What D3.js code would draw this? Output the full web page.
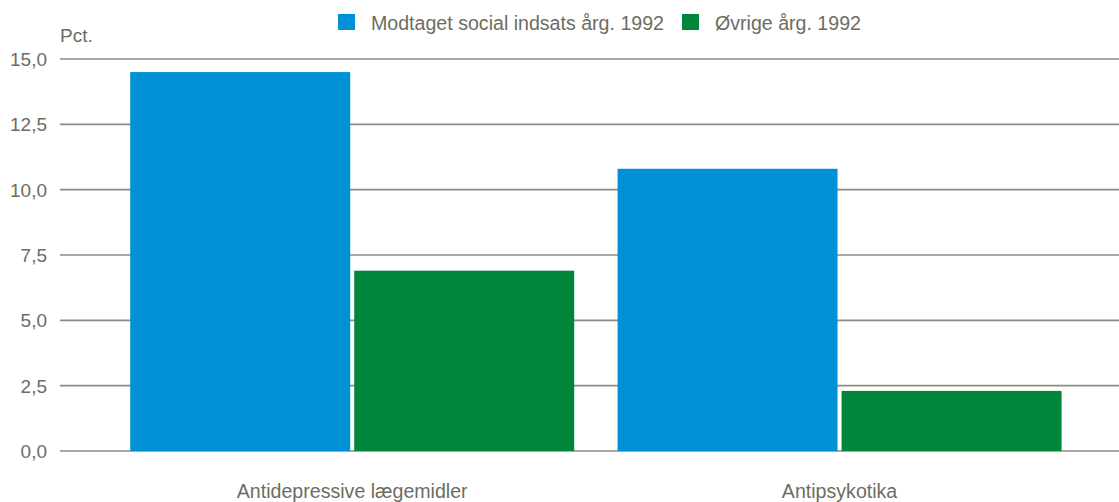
<!DOCTYPE html>
<html>
<head>
<meta charset="utf-8">
<script src="https://cdn.jsdelivr.net/npm/d3@7"></script>
<style>
  body { margin: 0; background: #fff; }
  text { font-family: "Liberation Sans", Arial, sans-serif; fill: #6d6d5f; }
</style>
</head>
<body>
<div id="chart"></div>
<script>
// data
var categories = ["Antidepressive lægemidler", "Antipsykotika"];
var seriesNames = ["Modtaget social indsats årg. 1992", "Øvrige årg. 1992"];
var socialIndsats = [14.5, 10.8];
var oevrige = [6.9, 2.3];
var yTicks = [0, 2.5, 5, 7.5, 10, 12.5, 15];
var colors = ["#0090d6", "#00863b"];

var width = 1119, height = 502;

var svg = d3.select("#chart")
    .append("svg")
    .attr("width", width)
    .attr("height", height);

var x0 = d3.scaleBand()
    .domain(categories)
    .range([60, 1119])
    .paddingInner(0.089)
    .paddingOuter(0.131)
    .align(0.55);

var x1 = d3.scaleBand()
    .domain(seriesNames)
    .range([0, x0.bandwidth()])
    .paddingInner(0.018);

var y = d3.scaleLinear()
    .domain([0, 15])
    .range([451, 59]);

var fmt = function (d) { return d3.format(".1f")(d).replace(".", ","); };

// gridlines
svg.append("g")
    .selectAll("line")
    .data(yTicks)
    .enter().append("line")
    .attr("x1", 60)
    .attr("x2", width)
    .attr("y1", function (d) { return y(d); })
    .attr("y2", function (d) { return y(d); })
    .attr("stroke", "#8c8c7e")
    .attr("stroke-width", 1.6);

// y tick labels
svg.append("g")
    .selectAll("text")
    .data(yTicks)
    .enter().append("text")
    .attr("x", 47)
    .attr("y", function (d) { return y(d); })
    .attr("dy", "0.36em")
    .attr("text-anchor", "end")
    .style("font-size", "19px")
    .text(fmt);

svg.append("text")
    .attr("x", 60)
    .attr("y", 42)
    .style("font-size", "19px")
    .text("Pct.");

// bars
var rows = categories.map(function (c, i) {
    return [
        { cat: c, key: seriesNames[0], value: socialIndsats[i], color: colors[0] },
        { cat: c, key: seriesNames[1], value: oevrige[i], color: colors[1] }
    ];
});

svg.append("g")
    .selectAll("g")
    .data(rows)
    .enter().append("g")
    .attr("transform", function (d) { return "translate(" + x0(d[0].cat) + ",0)"; })
    .selectAll("rect")
    .data(function (d) { return d; })
    .enter().append("rect")
    .attr("x", function (d) { return x1(d.key); })
    .attr("width", x1.bandwidth())
    .attr("y", function (d) { return y(d.value); })
    .attr("height", function (d) { return y(0) - y(d.value); })
    .attr("fill", function (d) { return d.color; });

// category labels
svg.append("g")
    .selectAll("text")
    .data(categories)
    .enter().append("text")
    .attr("x", function (d) { return x0(d) + x0.bandwidth() / 2; })
    .attr("y", 498)
    .attr("text-anchor", "middle")
    .style("font-size", "19.6px")
    .text(function (d) { return d; });

// legend
var legendX = [338, 682];
var legend = svg.append("g")
    .selectAll("g")
    .data(seriesNames)
    .enter().append("g")
    .attr("transform", function (d, i) { return "translate(" + legendX[i] + ",14)"; });

legend.append("rect")
    .attr("width", 17)
    .attr("height", 16)
    .attr("fill", function (d, i) { return colors[i]; });

legend.append("text")
    .attr("x", 33)
    .attr("y", 16)
    .style("font-size", "19.6px")
    .text(function (d) { return d; });
</script>
</body>
</html>
